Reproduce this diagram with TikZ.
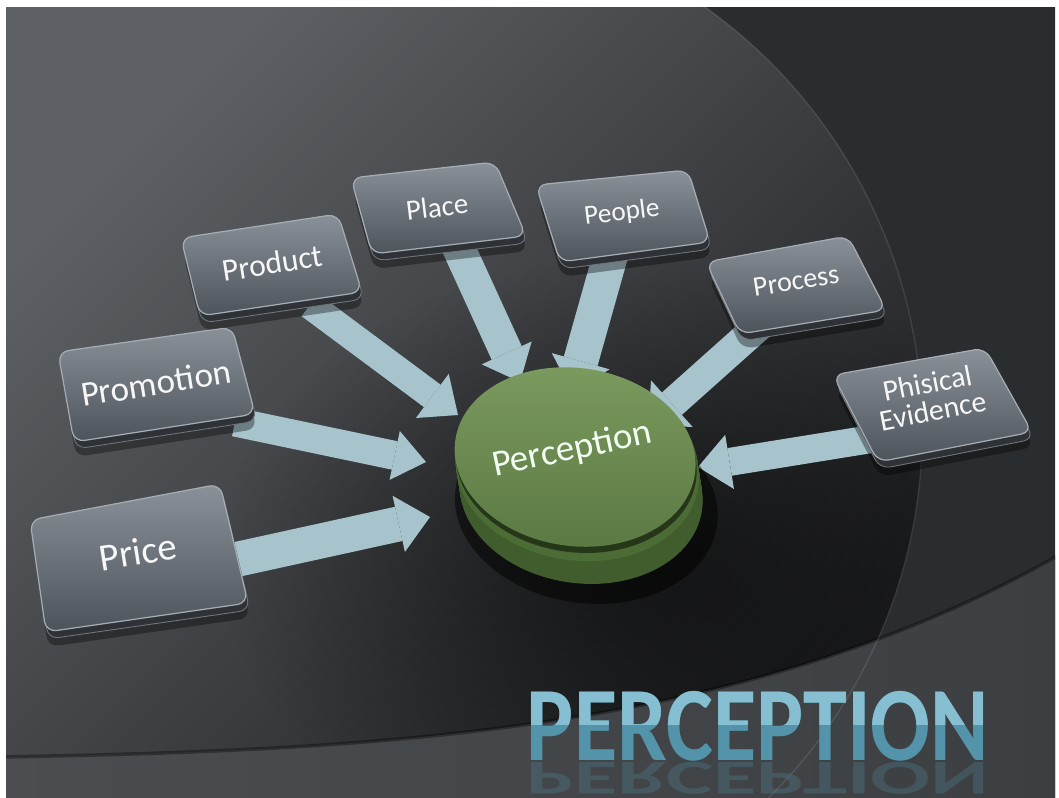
\documentclass[tikz,border=0pt]{standalone}
\usepackage{fontspec}
\setmainfont{Carlito}
\usetikzlibrary{arrows.meta,calc,fadings}
\definecolor{bgout}{HTML}{2A2D30}
\definecolor{bgl}{HTML}{5E6165}
\definecolor{bgd}{HTML}{1E1F21}
\definecolor{bandl}{HTML}{4B4D50}
\definecolor{bandr}{HTML}{3C3F42}
\definecolor{arrowc}{HTML}{A7C3CB}
\definecolor{boxtop}{HTML}{8A9199}
\definecolor{boxbot}{HTML}{4D535A}
\definecolor{boxside}{HTML}{2E3237}
\definecolor{boxrim}{HTML}{A5ACB3}
\definecolor{disctop}{HTML}{7C9B5F}
\definecolor{discbot}{HTML}{5A7842}
\definecolor{discside}{HTML}{4C6C35}
\definecolor{discdark}{HTML}{253619}
\definecolor{titlelo}{HTML}{5494AB}
\definecolor{titlehi}{HTML}{86BFD1}
\tikzfading[name=softblob, inner color=transparent!0, outer color=transparent!100]
\tikzset{
 fat/.style n args={2}{draw=arrowc, line width=#1, -{Triangle[length=0.64cm,width=#2,line width=0pt]}},
 boxtext/.style={text=white!94!gray, inner sep=0pt},
 keyshape/.style={rounded corners=6pt},
 titlefont/.style={font=\fontsize{60}{60}\selectfont\bfseries, xscale=0.84, inner sep=0pt, anchor=base},
}
\newcommand\keybox[4]{%
 \begin{scope}[shift={(2,15)}]\fill[black,opacity=0.35,keyshape] #1 -- #2 -- #3 -- #4 -- cycle;\end{scope}
 \begin{scope}[shift={(2,7)}]\fill[boxside,keyshape] #1 -- #2 -- #3 -- #4 -- cycle;
  \draw[boxbot!80!white,line width=0.5pt,keyshape] #1 -- #2 -- #3 -- #4 -- cycle;\end{scope}
 \shade[top color=boxtop,bottom color=boxbot,keyshape] #1 -- #2 -- #3 -- #4 -- cycle;
 \draw[boxrim,line width=0.7pt,keyshape] #1 -- #2 -- #3 -- #4 -- cycle;
}
\begin{document}
\begin{tikzpicture}[x=0.02cm,y=-0.02cm]
\useasboundingbox (0,0) rectangle (1059,798);
\fill[white] (0,0) rectangle (1059,798);
\begin{scope}
\clip (6,7) rectangle (1055,798);
\fill[bgout] (0,0) rectangle (1059,798);
\shade[top color=bgl, bottom color=bgd, shading angle=45] (0,0) -- (695,0) arc[start angle=-55.8, end angle=45.3, radius=519] -- (0,798) -- cycle;
\begin{scope}
\clip (0,0) -- (695,0) arc[start angle=-55.8, end angle=45.3, radius=519] -- (0,798) -- cycle;
\fill[black, opacity=0.55, path fading=softblob] (640,560) ellipse (420 and 300);
\end{scope}
\shade[left color=bandl, right color=bandr] (0,757) .. controls (400,750) and (750,730) .. (1059,555) -- (1059,798) -- (0,798) -- cycle;
\draw[black, opacity=0.35, line width=2pt] (0,757) .. controls (400,750) and (750,730) .. (1059,555);
\draw[white, opacity=0.1, line width=0.8pt] (695,0) arc[start angle=-55.8, end angle=45.3, radius=519];
\end{scope}

% arrow coordinates
\coordinate (sPrice) at (225,562);   \coordinate (tPrice) at (430,517);
\coordinate (sPromo) at (235,422);   \coordinate (tPromo) at (426,462);
\coordinate (sProd) at (310,305);    \coordinate (tProd) at (458,415);
\coordinate (sPlace) at (455,240);   \coordinate (tPlace) at (520,382);
\coordinate (sPeople) at (612,250);  \coordinate (tPeople) at (572,392);
\coordinate (sProc) at (760,325);    \coordinate (tProc) at (648,425);
\coordinate (sPhys) at (890,436);    \coordinate (tPhys) at (698,467);

\draw[fat={0.70cm}{1.15cm}] (sPrice) -- (tPrice);
\draw[fat={0.58cm}{1.0cm}] (sPromo) -- (tPromo);
\draw[fat={0.56cm}{1.1cm}] (sProd) -- (tProd);
\draw[fat={0.66cm}{1.1cm}] (sPlace) -- (tPlace);
\draw[fat={0.70cm}{1.2cm}] (sPeople) -- (tPeople);
\draw[fat={0.60cm}{1.25cm}] (sProc) -- (tProc);
\draw[fat={0.56cm}{1.1cm}] (sPhys) -- (tPhys);

% boxes
\keybox{(30,520)}{(220,484)}{(248,603)}{(46,632)}
\keybox{(58,352)}{(232,327)}{(255,414)}{(74,442)}
\keybox{(181,238)}{(338,214)}{(362,292)}{(200,316)}
\keybox{(351,178)}{(495,162)}{(526,236)}{(372,254)}
\keybox{(536,185)}{(688,170)}{(710,242)}{(560,262)}
\keybox{(706,262)}{(848,236)}{(886,310)}{(740,334)}
\keybox{(833,375)}{(985,348)}{(1032,432)}{(878,462)}

\node[boxtext, rotate=9, font=\fontsize{22}{24}\selectfont] (price) at (138,552) {Price};
\node[boxtext, rotate=9, font=\fontsize{20}{22}\selectfont] (promotion) at (156,383) {Promotion};
\node[boxtext, rotate=9, font=\fontsize{18}{20}\selectfont] (product) at (272,263) {Product};
\node[boxtext, rotate=7, font=\fontsize{16.5}{18}\selectfont] (place) at (437,207) {Place};
\node[boxtext, rotate=7, font=\fontsize{15.5}{17}\selectfont] (people) at (622,213) {People};
\node[boxtext, rotate=9, font=\fontsize{16}{18}\selectfont] (process) at (796,281) {Process};
\node[boxtext, rotate=11, align=center, font=\fontsize{17}{16}\selectfont] (physical) at (930,397) {Phisical\\Evidence};

% disc
\begin{scope}[rotate around={-8:(575,458)}]
\fill[black,opacity=0.5] (593,505) ellipse (132 and 96);
\foreach \k in {0,...,30} \fill[discside!85!black] ($(586,492)!\k/30!(577,462)$) ellipse (122 and 90);
\fill[discside] (579,470) ellipse (122 and 90);
\fill[discdark] (577,463) ellipse (121 and 89);
\shade[top color=disctop, bottom color=discbot] (575,457) ellipse (121 and 89);
\end{scope}
\node[text=white!95!green, rotate=12, font=\fontsize{21}{23}\selectfont, inner sep=0pt] (perception) at (572,450) {Perception};

% title
\begin{scope}
\clip (6,7) rectangle (1055,798);
\node[titlefont, text=titlelo, opacity=0.25, yscale=-0.46] (titlerefl) at (758,762) {PERCEPTION};
\node[titlefont, text=titlelo] (title) at (758,760) {PERCEPTION};
\clip (400,680) rectangle (1055,724);
\node[titlefont, text=titlehi] (titletop) at (758,760) {PERCEPTION};
\end{scope}
\end{tikzpicture}
\end{document}
